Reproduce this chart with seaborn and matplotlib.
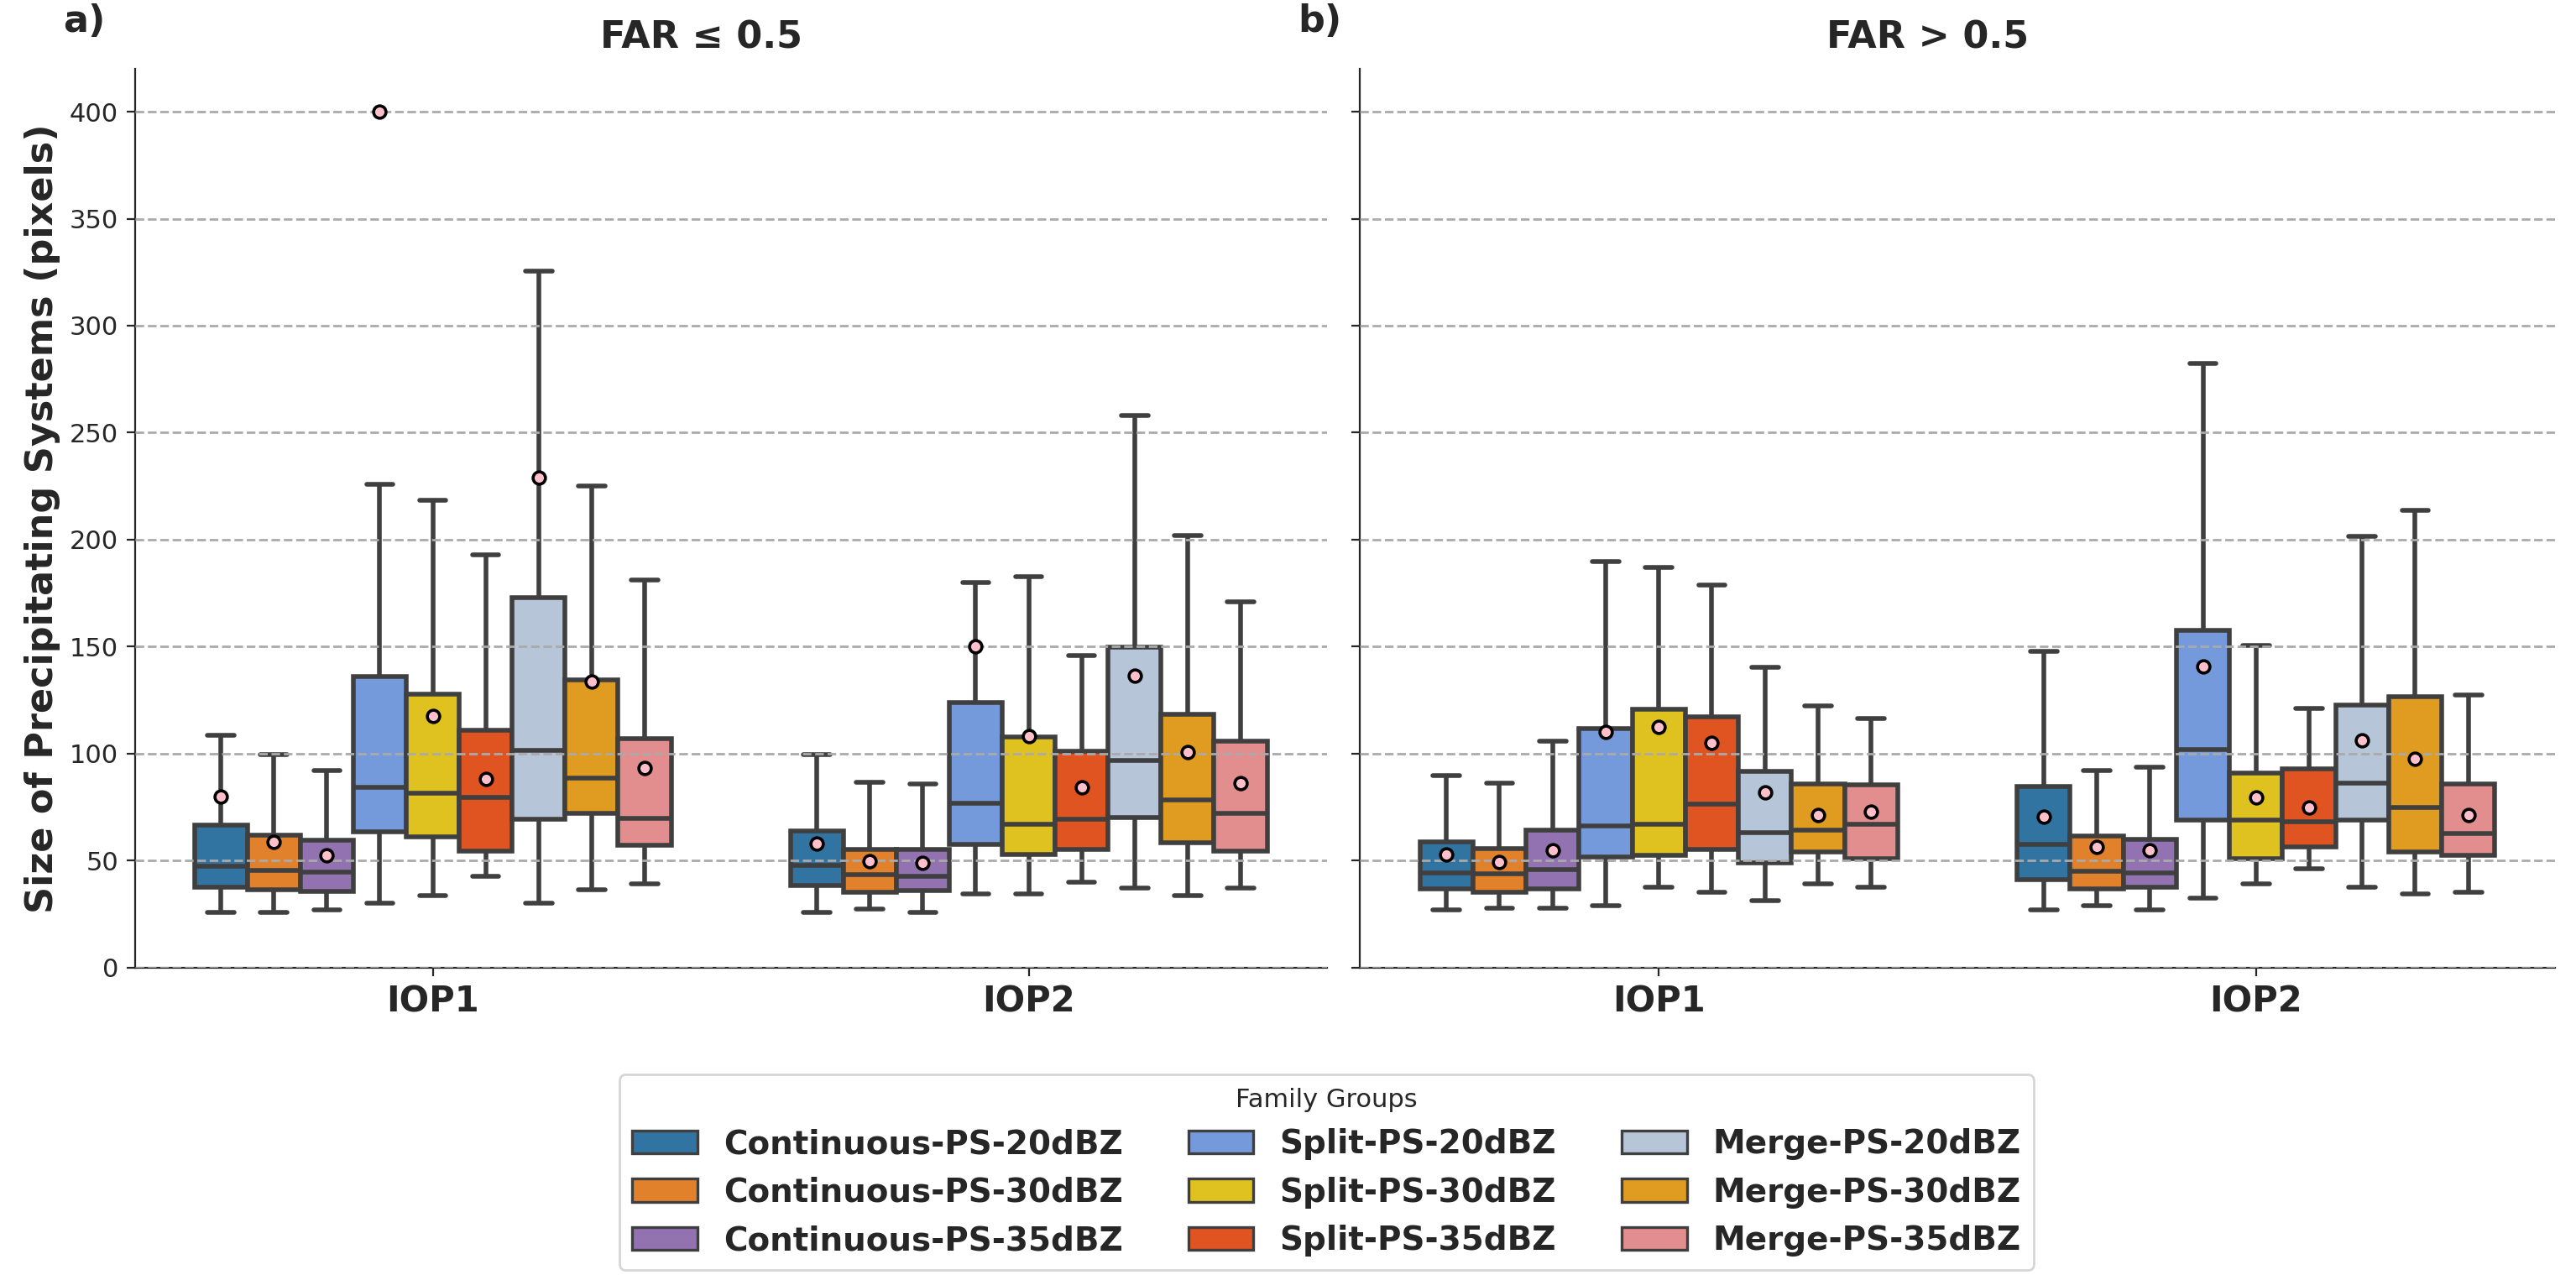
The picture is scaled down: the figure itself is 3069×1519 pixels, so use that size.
import numpy as np
import pandas as pd
import matplotlib
matplotlib.use("Agg")
import matplotlib.pyplot as plt
from matplotlib.patches import Patch
import seaborn as sns


iops = ["IOP1", "IOP2"]
groups = ["Continuous-PS-20dBZ", "Continuous-PS-30dBZ", "Continuous-PS-35dBZ",
          "Split-PS-20dBZ", "Split-PS-30dBZ", "Split-PS-35dBZ",
          "Merge-PS-20dBZ", "Merge-PS-30dBZ", "Merge-PS-35dBZ"]
colors = ["#1f77b4", "#ff7f0e", "#9467bd",
          "#6495ed", "#ffd700", "#ff4500",
          "#b0c4de", "#ffa500", "#f08080"]

# box summaries per group: [whisker low, q1, median, q3, whisker high]
# FAR <= 0.5
low_iop1 = [[26, 37.6, 47.6, 66.8, 108.7], [26, 36.5, 45.5, 62, 99.5], [27, 35.8, 44.6, 59.4, 92],
            [30, 63.6, 84.3, 136, 226], [33.6, 61, 81.6, 128, 218.5], [42.8, 54.5, 79.4, 110.8, 193],
            [30, 69.4, 101.4, 173, 325.5], [36.4, 72, 88.6, 134.6, 225], [39.2, 57.2, 69.8, 107, 181]]
low_iop2 = [[26, 38.3, 47.9, 63.8, 99.5], [27.3, 35.3, 43.5, 55.4, 86.7], [26, 36.2, 42.8, 55.4, 85.7],
            [34.4, 57.5, 76.7, 124, 180], [34.4, 53.1, 67.1, 107.7, 182.7], [40, 55.4, 69.4, 101.2, 146],
            [37.4, 70.3, 96.9, 149.8, 258], [33.6, 58.4, 78.5, 118.5, 202], [37.4, 54.5, 72, 105.8, 171]]
low_means = [[79.9, 58.9, 52.6, 400, 117.5, 88.1, 228.9, 133.7, 93.5],
             [57.9, 49.7, 48.8, 150.3, 108.2, 84.4, 136.5, 100.9, 86.4]]

# FAR > 0.5
high_iop1 = [[27, 36.9, 44.3, 58.7, 89.9], [27.9, 35.4, 43.7, 55.7, 86.3], [27.9, 36.9, 45.8, 64.4, 105.8],
             [28.8, 51.8, 66.2, 111.8, 189.7], [37.8, 52.7, 67.1, 120.7, 187], [35.4, 55.4, 76.4, 117.2, 178.9],
             [31.5, 48.8, 63.2, 91.7, 140.2], [39, 54.2, 64.4, 85.7, 122.2], [37.8, 50.9, 67.1, 85.4, 116.3]]
high_iop2 = [[27, 41.3, 57.8, 84.5, 147.7], [28.8, 36.9, 45.2, 61.4, 92.3], [27, 37.8, 44.3, 59.9, 93.8],
             [32.4, 68.9, 101.9, 157.6, 282.2], [39, 50.9, 68.9, 90.8, 150.4], [46.1, 56.3, 68.3, 92.9, 121],
             [37.8, 68.9, 86.3, 122.8, 201.6], [34.5, 54.2, 74.9, 126.7, 213.6], [35.4, 52.4, 62.9, 85.7, 127.6]]
high_means = [[53, 49.4, 54.8, 110.3, 112.4, 105.2, 82.1, 71.3, 72.8],
              [70.4, 56.3, 54.8, 140.8, 79.4, 74.9, 106.4, 97.7, 71.3]]


def make_frames(box_iop1, box_iop2, means):
    rows, mrows = [], []
    for iop, boxes, mvals in zip(iops, [box_iop1, box_iop2], means):
        for g, b, m in zip(groups, boxes, mvals):
            for v in b:
                rows.append({"IOP": iop, "Group": g, "Size": v})
            mrows.append({"IOP": iop, "Group": g, "Mean": m})
    return pd.DataFrame(rows), pd.DataFrame(mrows)


sns.set_style("ticks")
plt.rcParams["font.family"] = ["DejaVu Sans"]

fig = plt.figure(figsize=(15.345, 7.595), dpi=200)
ax1 = fig.add_axes([0.0523, 0.241, 0.4627, 0.705])
ax2 = fig.add_axes([0.528, 0.241, 0.4637, 0.705], sharey=ax1)

panels = [(ax1, low_iop1, low_iop2, low_means, "FAR \u2264 0.5", "a)", -0.06),
          (ax2, high_iop1, high_iop2, high_means, "FAR > 0.5", "b)", -0.052)]

for ax, b1, b2, mv, title, tag, tx in panels:
    df, dm = make_frames(b1, b2, mv)
    sns.boxplot(data=df, x="IOP", y="Size", hue="Group", order=iops, hue_order=groups,
                palette=colors, whis=(0, 100), showfliers=False, linecolor="#3f3f3f",
                linewidth=2, width=0.8, gap=0, legend=False, ax=ax)
    sns.stripplot(data=dm, x="IOP", y="Mean", hue="Group", order=iops, hue_order=groups,
                  palette=["pink"] * len(groups), dodge=True, jitter=False, size=5.3,
                  edgecolor="black", linewidth=1.3, legend=False, ax=ax, zorder=5)
    ax.set_ylim(0, 420)
    ax.set_yticks(np.arange(0, 401, 50))
    ax.yaxis.grid(True, linestyle="--", color="#aaaaaa", linewidth=1)
    ax.set_axisbelow(False)
    ax.set_xlabel("")
    ax.set_title(title, fontsize=16, fontweight="bold", pad=9, x=0.475)
    ax.text(tx, 1.033, tag, transform=ax.transAxes,
            fontsize=16, fontweight="bold", va="bottom", ha="left")
    for lbl in ax.get_xticklabels():
        lbl.set_fontsize(15)
        lbl.set_fontweight("bold")
    ax.tick_params(axis="y", labelsize=11)
    sns.despine(ax=ax)

ax1.set_ylabel("Size of Precipitating Systems (pixels)", fontsize=16, fontweight="bold")
ax2.set_ylabel("")
ax2.tick_params(axis="y", labelleft=False)

handles = [Patch(facecolor=sns.desaturate(c, 0.75), edgecolor="#3f3f3f", linewidth=1.2)
           for c in colors]
leg = fig.legend(handles, groups, title="Family Groups", ncol=3, loc="upper center",
                 bbox_to_anchor=(0.515, 0.17), prop={"weight": "bold", "size": 14},
                 title_fontsize=11, handlelength=2.0, columnspacing=2.0)

fig.savefig("out.png", dpi=200)
